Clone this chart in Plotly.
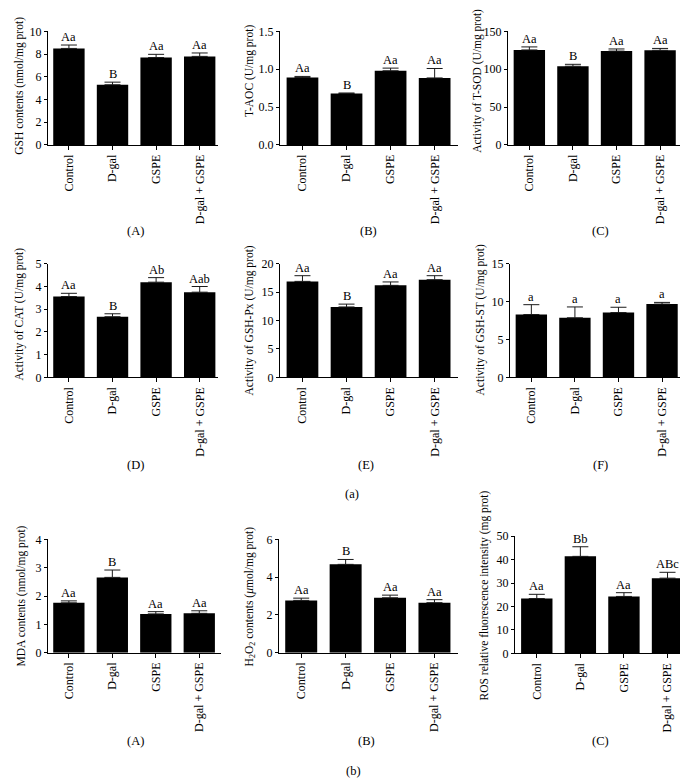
import plotly.graph_objects as go

W, H = 688, 783
FONT = "Liberation Serif"

groups = ["Control", "D-gal", "GSPE", "D-gal + GSPE"]

gsh = [8.5, 5.3, 7.7, 7.8]
gsh_err = [0.3, 0.23, 0.28, 0.3]
gsh_sig = ["Aa", "B", "Aa", "Aa"]

taoc = [0.89, 0.68, 0.98, 0.885]
taoc_err = [0.015, 0.006, 0.035, 0.125]
taoc_sig = ["Aa", "B", "Aa", "Aa"]

tsod = [125.5, 104.0, 124.0, 125.0]
tsod_err = [4.0, 2.5, 2.8, 2.5]
tsod_sig = ["Aa", "B", "Aa", "Aa"]

cat = [3.56, 2.67, 4.19, 3.75]
cat_err = [0.14, 0.13, 0.2, 0.25]
cat_sig = ["Aa", "B", "Ab", "Aab"]

gshpx = [16.9, 12.4, 16.2, 17.2]
gshpx_err = [1.0, 0.5, 0.6, 0.7]
gshpx_sig = ["Aa", "B", "Aa", "Aa"]

gshst = [8.3, 7.87, 8.56, 9.68]
gshst_err = [1.3, 1.43, 0.7, 0.22]
gshst_sig = ["a", "a", "a", "a"]

mda = [1.76, 2.66, 1.37, 1.39]
mda_err = [0.07, 0.26, 0.08, 0.09]
mda_sig = ["Aa", "B", "Aa", "Aa"]

h2o2 = [2.77, 4.68, 2.91, 2.65]
h2o2_err = [0.12, 0.26, 0.14, 0.16]
h2o2_sig = ["Aa", "B", "Aa", "Aa"]

ros = [23.4, 41.4, 24.3, 32.1]
ros_err = [1.8, 4.1, 1.6, 2.5]
ros_sig = ["Aa", "Bb", "Aa", "ABc"]

titles = [
    "GSH contents (nmol/mg prot)",
    "T-AOC (U/mg prot)",
    "Activity of T-SOD (U/mg prot)",
    "Activity of CAT (U/mg prot)",
    "Activity of GSH-Px (U/mg prot)",
    "Activity of GSH-ST (U/mg prot)",
    "MDA contents (nmol/mg prot)",
    "H<sub>2</sub>O<sub>2</sub> contents (<i>μ</i>mol/mg prot)",
    "ROS relative fluorescence intensity (mg prot)",
]
yticks = [
    [0, 2, 4, 6, 8, 10],
    [0.0, 0.5, 1.0, 1.5],
    [0, 50, 100, 150],
    [0, 1, 2, 3, 4, 5],
    [0, 5, 10, 15, 20],
    [0, 5, 10, 15],
    [0, 1, 2, 3, 4],
    [0, 2, 4, 6],
    [0, 10, 20, 30, 40, 50],
]
ytick_fmt = ["%d", "%.1f", "%d", "%d", "%d", "%d", "%d", "%d", "%d"]
panel_labels = ["(A)", "(B)", "(C)", "(D)", "(E)", "(F)", "(A)", "(B)", "(C)"]
values = [gsh, taoc, tsod, cat, gshpx, gshst, mda, h2o2, ros]
errors = [gsh_err, taoc_err, tsod_err, cat_err, gshpx_err, gshst_err, mda_err, h2o2_err, ros_err]
sigs = [gsh_sig, taoc_sig, tsod_sig, cat_sig, gshpx_sig, gshst_sig, mda_sig, h2o2_sig, ros_sig]

# layout geometry in pixels: (x_left, x_right, xrange_lo, xrange_hi, y_top, y_bottom)
geom = [
    (40, 210, -0.48, 3.42, 16.7, 132.3),
    (272, 450, -0.51, 3.53, 16.7, 132.3),
    (500, 673, -0.49, 3.48, 16.7, 132.3),
    (40, 210, -0.48, 3.42, 253.3, 369),
    (272, 450, -0.51, 3.53, 253.3, 369),
    (502, 678, -0.49, 3.55, 253.3, 369),
    (40, 213, -0.48, 3.5, 534, 649.3),
    (271, 450, -0.5, 3.53, 534, 649.3),
    (507, 680, -0.5, 3.47, 530.7, 650),
]
title_pos = [(12, 72), (242, 57), (470, 67), (12, 305), (241, 311), (472, 311),
             (13, 592), (242, 592), (476, 591)]
label_pos = [(127, 220), (360, 220), (592, 220), (127, 458), (358, 458), (592, 458),
             (127, 739), (358, 739), (592, 739)]

fig = go.Figure()
annotations = []
for i in range(9):
    n = "" if i == 0 else str(i + 1)
    xa, ya = "x" + n, "y" + n
    xl, xr, r0, r1, yt, yb = geom[i]
    fig.add_trace(go.Bar(
        x=groups, y=values[i], width=0.72,
        marker=dict(color="black", line=dict(width=0)),
        error_y=dict(type="data", array=errors[i], arrayminus=[0] * 4, symmetric=False,
                     color="#1a1a1a", thickness=1, width=8),
        xaxis=xa, yaxis=ya, showlegend=False, hoverinfo="skip",
    ))
    ymax = yticks[i][-1]
    fig.layout["xaxis" + n] = dict(
        domain=[xl / W, xr / W], anchor=ya, range=[r0, r1], type="category",
        tickangle=-90, ticks="outside", ticklen=4, tickcolor="black",
        showline=True, linecolor="black", linewidth=1, showgrid=False, zeroline=False,
        tickfont=dict(family=FONT, size=12, color="black"), fixedrange=True,
    )
    fig.layout["yaxis" + n] = dict(
        domain=[1 - yb / H, 1 - yt / H], anchor=xa, range=[0, ymax],
        tickvals=yticks[i], ticktext=[ytick_fmt[i] % v for v in yticks[i]],
        ticks="outside", ticklen=3, tickcolor="black",
        showline=True, linecolor="black", linewidth=1, showgrid=False, zeroline=False,
        tickfont=dict(family=FONT, size=12, color="black"), fixedrange=True,
    )
    for j, g in enumerate(groups):
        annotations.append(dict(
            x=g, y=values[i][j] + errors[i][j], xref=xa, yref=ya,
            text=sigs[i][j], showarrow=False, yanchor="bottom", yshift=-1,
            font=dict(family=FONT, size=12.5, color="black"),
        ))
    tx, ty = title_pos[i]
    annotations.append(dict(
        x=tx / W, y=1 - ty / H, xref="paper", yref="paper", text=titles[i],
        showarrow=False, textangle=-90, xanchor="center", yanchor="middle",
        font=dict(family=FONT, size=11.5, color="black"),
    ))
    lx, ly = label_pos[i]
    annotations.append(dict(
        x=lx / W, y=1 - ly / H, xref="paper", yref="paper", text=panel_labels[i],
        showarrow=False, xanchor="center", yanchor="middle",
        font=dict(family=FONT, size=12.5, color="black"),
    ))

for txt, px, py in [("(a)", 344, 488), ("(b)", 345, 770)]:
    annotations.append(dict(
        x=px / W, y=1 - py / H, xref="paper", yref="paper", text=txt,
        showarrow=False, xanchor="center", yanchor="middle",
        font=dict(family=FONT, size=12.5, color="black"),
    ))

fig.update_layout(
    width=W, height=H, margin=dict(l=0, r=0, t=0, b=0),
    paper_bgcolor="white", plot_bgcolor="white",
    annotations=annotations, bargap=0.28,
)
fig.write_html("out.html")
